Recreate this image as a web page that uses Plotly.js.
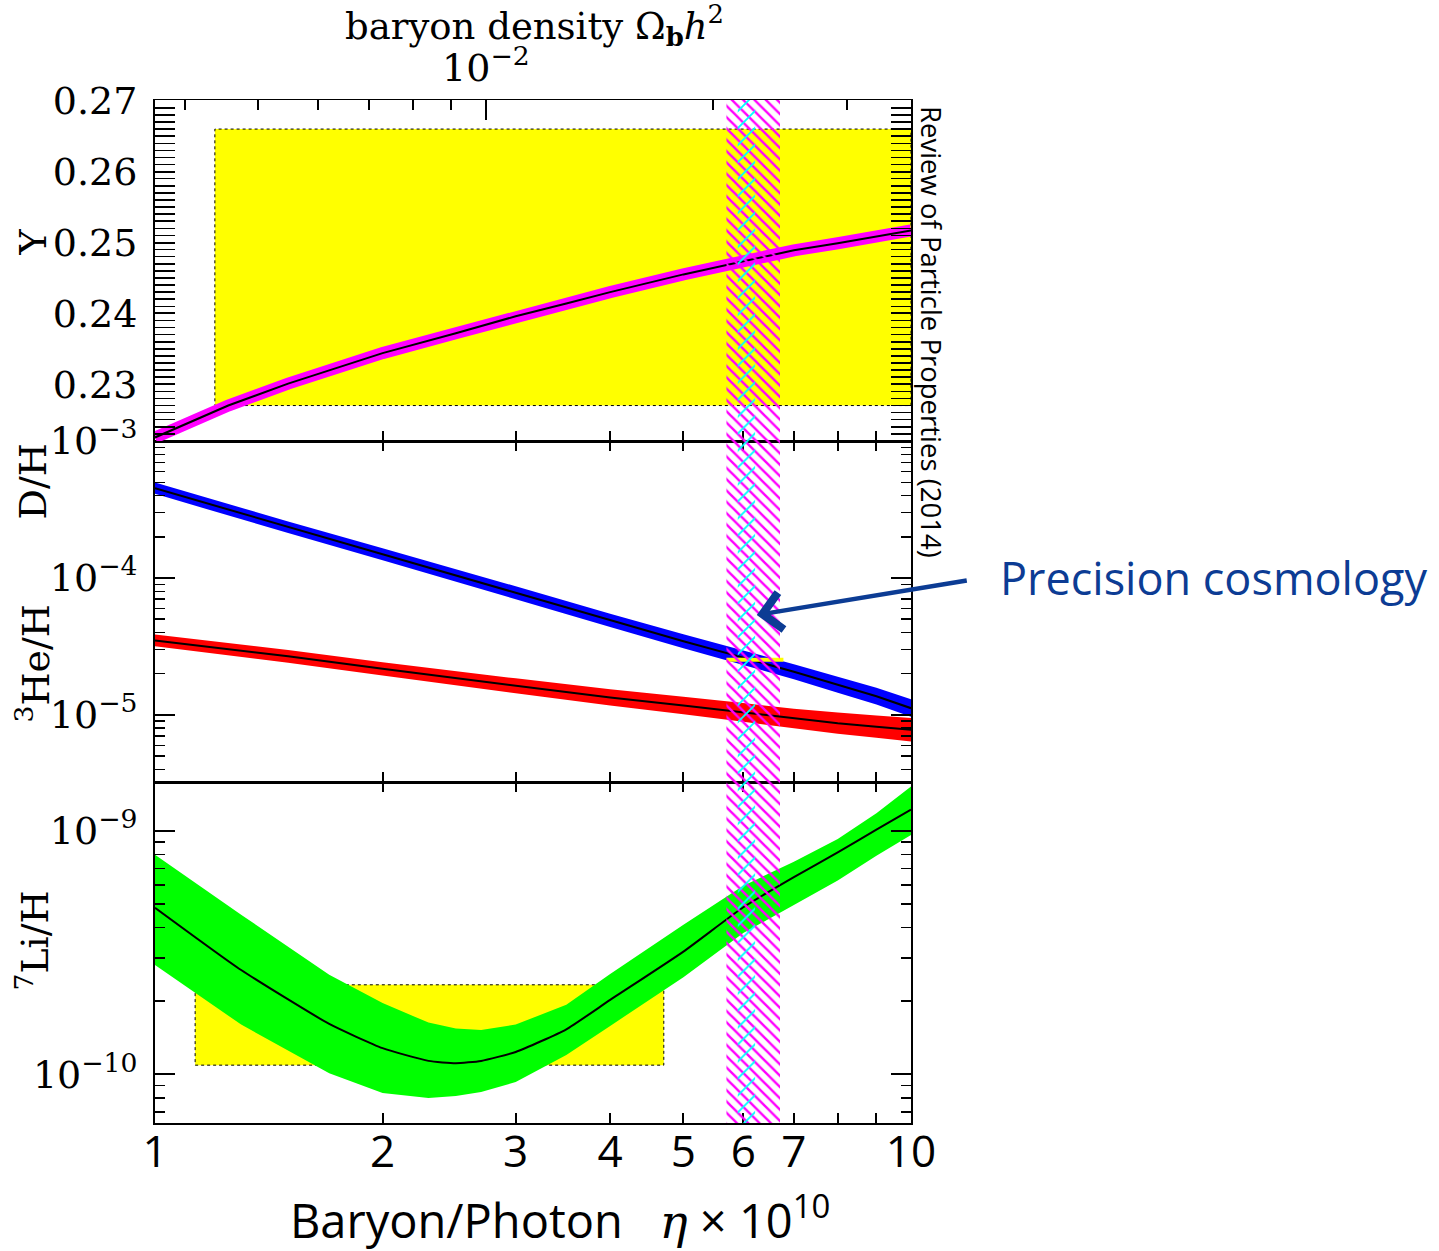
<!DOCTYPE html>
<html>
<head>
<meta charset="utf-8">
<script src="https://cdn.plot.ly/plotly-3.0.1.min.js"></script>
<style>html,body{margin:0;padding:0;background:#fff;}</style>
</head>
<body>
<div id="chart" style="width:1439px;height:1251px;"></div>
<script>
// ---------------- data ----------------
// Helium-4 mass fraction Y_p vs eta_10
const ETA_Y = [1, 1.25, 1.5, 1.75, 2, 2.5, 3, 3.5, 4, 5, 6, 7, 8, 9, 10];
const YP_MID = [0.2225, 0.2270, 0.2301, 0.2324, 0.2344, 0.2372, 0.2396, 0.2414, 0.2430, 0.2455, 0.2474, 0.2489, 0.2499, 0.2508, 0.2517];

// D/H and 3He/H
const ETA_DH = [1, 1.5, 2, 3, 4, 5, 6, 7, 8, 9, 10];
const DH_MID = [4.53e-4, 2.35e-4, 1.49e-4, 7.8e-5, 4.9e-5, 3.45e-5, 2.62e-5, 2.07e-5, 1.66e-5, 1.37e-5, 1.12e-5];
const DH_LO  = [4.12e-4, 2.13e-4, 1.35e-4, 7.0e-5, 4.38e-5, 3.07e-5, 2.32e-5, 1.82e-5, 1.45e-5, 1.19e-5, 0.97e-5];
const DH_HI  = [4.98e-4, 2.59e-4, 1.65e-4, 8.7e-5, 5.48e-5, 3.88e-5, 2.96e-5, 2.35e-5, 1.90e-5, 1.58e-5, 1.30e-5];
const HE3_MID = [3.50e-5, 2.68e-5, 2.17e-5, 1.63e-5, 1.34e-5, 1.17e-5, 1.04e-5, 9.4e-6, 8.7e-6, 8.2e-6, 7.8e-6];
const HE3_LO  = [3.17e-5, 2.41e-5, 1.94e-5, 1.44e-5, 1.17e-5, 1.01e-5, 8.9e-6, 8.0e-6, 7.3e-6, 6.8e-6, 6.4e-6];
const HE3_HI  = [3.87e-5, 2.98e-5, 2.43e-5, 1.85e-5, 1.54e-5, 1.36e-5, 1.22e-5, 1.11e-5, 1.04e-5, 9.9e-6, 9.5e-6];

// 7Li/H
const ETA_LI = [1, 1.3, 1.7, 2, 2.3, 2.5, 2.7, 3, 3.5, 4, 5, 6, 7, 8, 9, 10];
const LI_MID = [4.83e-10, 2.68e-10, 1.61e-10, 1.28e-10, 1.135e-10, 1.11e-10, 1.135e-10, 1.235e-10, 1.53e-10, 2.02e-10, 3.19e-10, 4.85e-10, 6.45e-10, 8.15e-10, 1.01e-9, 1.22e-9];
const LI_HI  = [7.96e-10, 4.52e-10, 2.56e-10, 1.96e-10, 1.63e-10, 1.54e-10, 1.52e-10, 1.60e-10, 1.93e-10, 2.58e-10, 4.11e-10, 5.95e-10, 7.45e-10, 9.25e-10, 1.18e-9, 1.52e-9];
const LI_LO  = [2.81e-10, 1.60e-10, 1.01e-10, 8.37e-11, 8.0e-11, 8.15e-11, 8.45e-11, 9.29e-11, 1.20e-10, 1.58e-10, 2.50e-10, 3.80e-10, 4.95e-10, 6.25e-10, 7.90e-10, 9.60e-10];

// observational boxes / ranges
const YP_OBS_ETA = [1.2, 10];
const YP_OBS = [0.227, 0.266];
const LI_OBS_ETA = [1.13, 4.71];
const LI_OBS = [1.09e-10, 2.33e-10];
const DH_OBS_ETA = [5.7, 6.78];
const DH_OBS = 2.53e-5;
const ETA_BBN_BAND = [5.7, 6.71];   // magenta hatch
const ETA_CMB_BAND = [5.9, 6.22];   // cyan hatch

// axis ticks
const X_TICKS = [1, 2, 3, 4, 5, 6, 7, 8, 9, 10];
const X_LABELS = ['1', '2', '3', '4', '5', '6', '7', '', '', '10'];
const OMEGA_TO_ETA = 273.9;
const OMEGA_MAJOR = [0.01];
const OMEGA_MAJOR_LABELS = ['10<sup>\u22122</sup>'];
const OMEGA_MINOR = [0.004, 0.005, 0.006, 0.007, 0.008, 0.009, 0.02, 0.03];
const Y_TICKS = [0.23, 0.24, 0.25, 0.26, 0.27];
const Y_LABELS = ['0.23', '0.24', '0.25', '0.26', '0.27'];
const MID_TICKS = [1e-5, 1e-4, 1e-3];
const MID_LABELS = ['10<sup>\u22125</sup>', '10<sup>\u22124</sup>', '10<sup>\u22123</sup>'];
const LI_TICKS = [1e-10, 1e-9];
const LI_LABELS = ['10<sup>\u221210</sup>', '10<sup>\u22129</sup>'];

// ---------------- helpers ----------------
function decadeMinors(exps) {
  const out = [];
  exps.forEach(e => { for (let m = 2; m <= 9; m++) out.push(m * Math.pow(10, e)); });
  return out;
}
function linearMinors(from, to, step) {
  const out = [];
  for (let k = Math.round(from / step); k * step <= to + 1e-9; k++) out.push(+(k * step).toFixed(4));
  return out;
}
function rectX(r) { return [r[0], r[1], r[1], r[0], r[0]]; }
function rectY(r) { return [r[0], r[0], r[1], r[1], r[0]]; }
function bandX(x) { return x.concat(x.slice().reverse()); }
function bandY(lo, hi) { return lo.concat(hi.slice().reverse()); }

const SERIF = 'DejaVu Serif';
const SANS = 'Open Sans';
const NAVY = '#0c3c94';

const traces = [];
// yellow observational boxes
traces.push({x: rectX(YP_OBS_ETA), y: rectY(YP_OBS), xaxis: 'x3', yaxis: 'y', mode: 'lines',
  fill: 'toself', fillcolor: '#ffff00', line: {color: '#000', width: 1, dash: 'dot'}, hoverinfo: 'skip'});
traces.push({x: rectX(LI_OBS_ETA), y: rectY(LI_OBS), xaxis: 'x', yaxis: 'y3', mode: 'lines',
  fill: 'toself', fillcolor: '#ffff00', line: {color: '#000', width: 1, dash: 'dot'}, hoverinfo: 'skip'});

// Y_p band and line
traces.push({x: ETA_Y, y: YP_MID, xaxis: 'x3', yaxis: 'y', mode: 'lines', line: {color: '#ff00ff', width: 12}, hoverinfo: 'skip'});
traces.push({x: ETA_Y, y: YP_MID, xaxis: 'x3', yaxis: 'y', mode: 'lines', line: {color: '#000', width: 2}, hoverinfo: 'skip'});

// D/H band
traces.push({x: bandX(ETA_DH), y: bandY(DH_LO, DH_HI), xaxis: 'x2', yaxis: 'y2', mode: 'none',
  fill: 'toself', fillcolor: '#0000ff', hoverinfo: 'skip'});
traces.push({x: ETA_DH, y: DH_MID, xaxis: 'x2', yaxis: 'y2', mode: 'lines', line: {color: '#000', width: 2}, hoverinfo: 'skip'});
// 3He/H band
traces.push({x: bandX(ETA_DH), y: bandY(HE3_LO, HE3_HI), xaxis: 'x2', yaxis: 'y2', mode: 'none',
  fill: 'toself', fillcolor: '#ff0000', hoverinfo: 'skip'});
traces.push({x: ETA_DH, y: HE3_MID, xaxis: 'x2', yaxis: 'y2', mode: 'lines', line: {color: '#000', width: 2}, hoverinfo: 'skip'});
// D/H observation
traces.push({x: DH_OBS_ETA, y: [DH_OBS, DH_OBS], xaxis: 'x2', yaxis: 'y2', mode: 'lines', line: {color: '#ffff00', width: 4}, hoverinfo: 'skip'});

// Li band
traces.push({x: bandX(ETA_LI), y: bandY(LI_LO, LI_HI), xaxis: 'x', yaxis: 'y3', mode: 'none',
  fill: 'toself', fillcolor: '#00ff00', hoverinfo: 'skip'});
traces.push({x: ETA_LI, y: LI_MID, xaxis: 'x', yaxis: 'y3', mode: 'lines', line: {color: '#000', width: 2, shape: 'spline', smoothing: 0.5}, hoverinfo: 'skip'});

// hatched vertical bands across all panels (full-height overlay axis)
traces.push({x: rectX(ETA_BBN_BAND), y: [0, 0, 1, 1, 0], xaxis: 'x5', yaxis: 'y4', mode: 'none',
  fill: 'toself', fillcolor: 'rgba(255,0,255,0)',
  fillpattern: {shape: '\\', fgcolor: '#ff00ff', bgcolor: 'rgba(0,0,0,0)', size: 8, solidity: 0.3}, hoverinfo: 'skip'});
traces.push({x: rectX(ETA_CMB_BAND), y: [0, 0, 1, 1, 0], xaxis: 'x5', yaxis: 'y4', mode: 'none',
  fill: 'toself', fillcolor: 'rgba(0,255,255,0)',
  fillpattern: {shape: '/', fgcolor: '#00ffff', bgcolor: 'rgba(0,0,0,0)', size: 12, solidity: 0.15}, hoverinfo: 'skip'});

// dummy trace for top omega axis
traces.push({x: [], y: [], xaxis: 'x4', yaxis: 'y', mode: 'lines', hoverinfo: 'skip'});

const axBase = {showline: true, linecolor: '#000', linewidth: 2, ticks: 'inside', tickcolor: '#000',
  tickwidth: 2, showgrid: false, zeroline: false, fixedrange: true};
const tickFontSerif = {family: SERIF, size: 38, color: '#000'};

const layout = {
  width: 1439, height: 1251,
  margin: {l: 155, r: 528, t: 100, b: 128},
  paper_bgcolor: '#ffffff', plot_bgcolor: 'rgba(0,0,0,0)',
  showlegend: false,
  xaxis: Object.assign({}, axBase, {type: 'log', range: [0, 1], anchor: 'y3', mirror: 'allticks', linewidth: 1.5,
    tickmode: 'array', tickvals: X_TICKS, ticktext: X_LABELS, ticklen: 10,
    tickfont: {family: SANS, size: 44, color: '#000'}, ticklabelstandoff: -10}),
  xaxis2: Object.assign({}, axBase, {type: 'log', range: [0, 1], anchor: 'y2', mirror: 'allticks', linewidth: 1.5,
    tickmode: 'array', tickvals: X_TICKS, showticklabels: false, ticklen: 10}),
  xaxis3: Object.assign({}, axBase, {type: 'log', range: [0, 1], anchor: 'y', mirror: true, linewidth: 1.5,
    tickmode: 'array', tickvals: X_TICKS, showticklabels: false, ticklen: 10}),
  xaxis4: {type: 'log', range: [0, 1], overlaying: 'x3', side: 'top', anchor: 'y', showline: false,
    showgrid: false, zeroline: false, ticks: 'inside', tickcolor: '#000', tickwidth: 2, ticklen: 20,
    tickmode: 'array', tickvals: OMEGA_MAJOR.map(o => o * OMEGA_TO_ETA), ticktext: OMEGA_MAJOR_LABELS,
    tickfont: tickFontSerif, ticklabelstandoff: 10,
    minor: {tickmode: 'array', tickvals: OMEGA_MINOR.map(o => o * OMEGA_TO_ETA), ticks: 'inside', ticklen: 10, tickcolor: '#000', tickwidth: 2}},
  xaxis5: {type: 'log', range: [0, 1], anchor: 'y4', visible: false, fixedrange: true},
  yaxis: Object.assign({}, axBase, {domain: [2/3, 1], range: [0.222, 0.2701], anchor: 'x3', mirror: 'allticks',
    tickmode: 'array', tickvals: Y_TICKS, ticktext: Y_LABELS, ticklen: 20, tickfont: tickFontSerif, ticklabelstandoff: 8,
    minor: {tickmode: 'array', tickvals: linearMinors(0.222, 0.270, 0.001), ticks: 'inside', ticklen: 10, tickcolor: '#000', tickwidth: 1.5}}),
  yaxis2: Object.assign({}, axBase, {type: 'log', domain: [1/3, 2/3], range: [-5.49, -2.999], anchor: 'x2', mirror: 'allticks',
    tickmode: 'array', tickvals: MID_TICKS, ticktext: MID_LABELS, ticklen: 20, tickfont: tickFontSerif, ticklabelstandoff: 8,
    minor: {tickmode: 'array', tickvals: decadeMinors([-6, -5, -4]), ticks: 'inside', ticklen: 10, tickcolor: '#000', tickwidth: 1.5}}),
  yaxis3: Object.assign({}, axBase, {type: 'log', domain: [0, 1/3], range: [-10.2, -8.8], anchor: 'x', mirror: 'allticks',
    tickmode: 'array', tickvals: LI_TICKS, ticktext: LI_LABELS, ticklen: 20, tickfont: tickFontSerif, ticklabelstandoff: 8,
    minor: {tickmode: 'array', tickvals: decadeMinors([-11, -10]), ticks: 'inside', ticklen: 10, tickcolor: '#000', tickwidth: 1.5}}),
  yaxis4: {domain: [0, 1], range: [0, 1], anchor: 'x5', visible: false, fixedrange: true},
  annotations: [
    {text: 'baryon density \u03A9<sub><b>b</b></sub><i>h</i><sup>2</sup>', xref: 'paper', yref: 'paper',
      x: 0.5026, y: 1.0724, xanchor: 'center', yanchor: 'middle', showarrow: false, font: {family: SERIF, size: 37, color: '#000'}},
    {text: 'Y', xref: 'paper', yref: 'paper', x: -0.162, y: 0.8612, xanchor: 'center', yanchor: 'middle',
      textangle: -90, showarrow: false, font: {family: SERIF, size: 38, color: '#000'}},
    {text: 'D/H', xref: 'paper', yref: 'paper', x: -0.162, y: 0.6266, xanchor: 'center', yanchor: 'middle',
      textangle: -90, showarrow: false, font: {family: SERIF, size: 38, color: '#000'}},
    {text: '<sup>3</sup>He/H', xref: 'paper', yref: 'paper', x: -0.162, y: 0.4497, xanchor: 'center', yanchor: 'middle',
      textangle: -90, showarrow: false, font: {family: SERIF, size: 38, color: '#000'}},
    {text: '<sup>7</sup>Li/H', xref: 'paper', yref: 'paper', x: -0.162, y: 0.1779, xanchor: 'center', yanchor: 'middle',
      textangle: -90, showarrow: false, font: {family: SERIF, size: 38, color: '#000'}},
    {text: 'Review of Particle Properties (2014)', xref: 'paper', yref: 'paper', x: 1.0278, y: 0.7732,
      xanchor: 'center', yanchor: 'middle', textangle: 90, showarrow: false, font: {family: SANS, size: 27.5, color: '#000'}},
    {text: 'Precision cosmology', xref: 'paper', yref: 'paper', x: 1.3995, y: 0.5328, xanchor: 'center', yanchor: 'middle',
      showarrow: false, font: {family: SANS, size: 45, color: NAVY}},
    {text: ' ', xref: 'paper', yref: 'paper', x: 0.796, y: 0.4966, showarrow: true, axref: 'pixel', ayref: 'pixel',
      ax: 213, ay: -35, arrowhead: 4, arrowsize: 1.6, arrowwidth: 4.5, arrowcolor: NAVY, standoff: 0, startstandoff: 0},
    {text: 'Baryon/Photon\u00a0\u00a0 <i><span style="font-family:DejaVu Serif">\u03B7</span></i> \u00D7 10<sup>10</sup>',
      xref: 'paper', yref: 'paper', x: 0.536, y: -0.0925, xanchor: 'center', yanchor: 'middle', showarrow: false,
      font: {family: SANS, size: 47, color: '#000'}}
  ]
};

Plotly.newPlot('chart', traces, layout, {staticPlot: true, displayModeBar: false});
</script>
</body>
</html>
